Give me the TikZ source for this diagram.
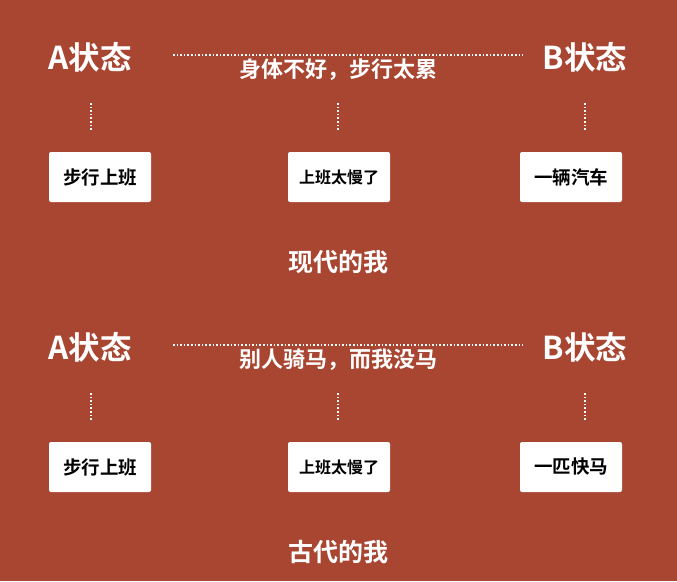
\documentclass[tikz,border=0pt]{standalone}
\usepackage{fontspec}
\setmainfont{Noto Sans CJK SC}
\newfontfamily\cjkb{Noto Sans CJK SC Bold}
\definecolor{bgred}{RGB}{168,70,50}
\tikzset{
  x=1pt,y=-1pt,
  state/.style={text=white,font=\cjkb\fontsize{31.5}{31.5}\selectfont,inner sep=0pt,anchor=center},
  reason/.style={text=white,font=\cjkb\fontsize{22}{22}\selectfont,inner sep=0pt},
  title/.style={text=white,font=\cjkb\fontsize{25}{25}\selectfont,inner sep=0pt},
  card/.style={fill=white,rounded corners=2pt,minimum width=102pt,minimum height=50pt,inner sep=0pt,text=black,font=\cjkb\fontsize{18.5}{18.5}\selectfont},
  smallcard/.style={card,font=\cjkb\fontsize{16}{16}\selectfont},
  dots/.style={white,line width=1.2pt,dash pattern=on 1.6pt off 2pt},
}
\begin{document}
\begin{tikzpicture}
\fill[bgred] (0,0) rectangle (677,581);
\useasboundingbox (0,0) rectangle (677,581);
\foreach \dy/\goal/\why/\who/\k in {0/一辆汽车/{身体不好，步行太累}/现代的我/m, 290/一匹快马/{别人骑马，而我没马}/古代的我/g}{
  \node[state] (A\k) at (90,57+\dy) {A状态};
  \node[state] (B\k) at (585,57+\dy) {B状态};
  \coordinate (L\k) at (173,55+\dy);
  \coordinate (R\k) at (523,55+\dy);
  \draw[dots] (L\k) -- (R\k);
  \node[reason] (W\k) at (338,70+\dy) {\why};
  \node[card] (c1\k) at (100,177+\dy) {步行上班};
  \node[smallcard] (c2\k) at (339,177+\dy) {上班太慢了};
  \node[card] (c3\k) at (571,177+\dy) {\goal};
  \coordinate (v1\k) at (91,103+\dy); \coordinate (u1\k) at (91,130+\dy);
  \coordinate (v2\k) at (338,103+\dy); \coordinate (u2\k) at (338,130+\dy);
  \coordinate (v3\k) at (585,103+\dy); \coordinate (u3\k) at (585,130+\dy);
  \draw[dots] (v1\k) -- (u1\k);
  \draw[dots] (v2\k) -- (u2\k);
  \draw[dots] (v3\k) -- (u3\k);
  \node[title] (T\k) at (338,262+\dy) {\who};
}
\end{tikzpicture}
\end{document}
